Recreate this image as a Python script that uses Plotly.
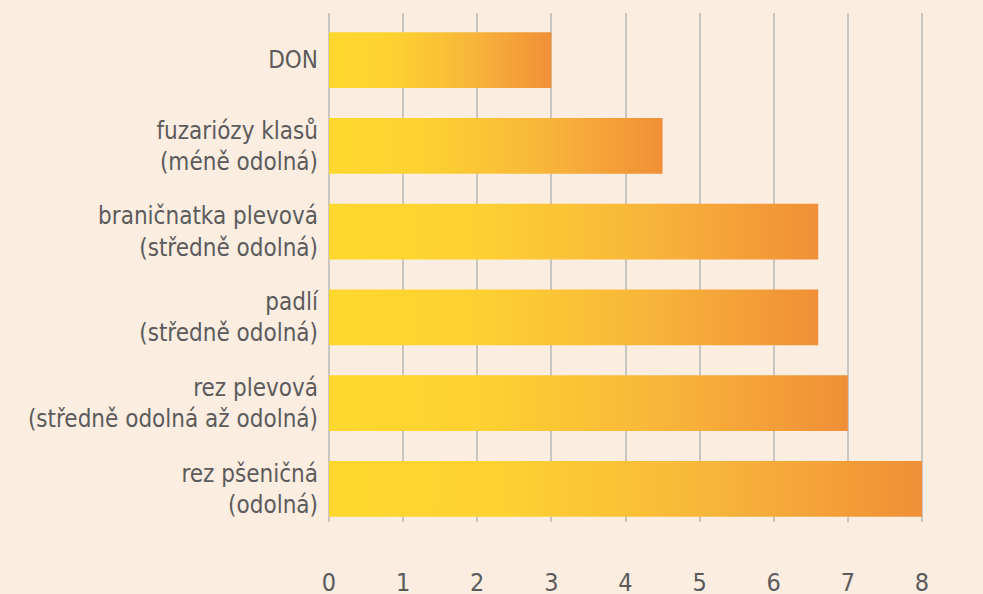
import plotly.graph_objects as go

categories = [
    "DON",
    "fuzariózy klasů<br>(méně odolná)",
    "braničnatka plevová<br>(středně odolná)",
    "padlí<br>(středně odolná)",
    "rez plevová<br>(středně odolná až odolná)",
    "rez pšeničná<br>(odolná)",
]
values = [3, 4.5, 6.6, 6.6, 7, 8]
x_ticks = [0, 1, 2, 3, 4, 5, 6, 7, 8]

FONT = "Liberation Sans Narrow, DejaVu Sans Condensed, Roboto, sans-serif"
TEXT = "#5b5b5b"
BG = "#FCEDE1"
half = 0.325
n = len(categories)
ypos = [n - 1 - i for i in range(n)]

fig = go.Figure()
for cat, v, y in zip(categories, values, ypos):
    fig.add_trace(go.Scatter(
        x=[0, v, v, 0, 0],
        y=[y - half, y - half, y + half, y + half, y - half],
        mode="lines",
        line=dict(width=0),
        fill="toself",
        fillgradient=dict(
            type="horizontal",
            colorscale=[[0, "#FFD82E"], [0.3, "#FDD131"], [0.65, "#F8B53A"], [1, "#F08F37"]],
        ),
        hoverinfo="skip",
        showlegend=False,
    ))

fig.update_layout(
    width=983, height=594,
    paper_bgcolor=BG, plot_bgcolor=BG,
    margin=dict(l=327, r=59, t=13, b=72, autoexpand=False),
    font=dict(family=FONT, color=TEXT, size=24),
    showlegend=False,
)
fig.update_xaxes(
    range=[-0.027, 8.027], tickvals=x_ticks, showgrid=True, gridcolor="#C9C5C1", gridwidth=2,
    zeroline=False, showline=False, ticks="", ticklabelstandoff=43,
    tickfont=dict(size=25, family=FONT, color=TEXT), fixedrange=True, automargin=False,
)
fig.update_yaxes(
    range=[-0.385, 5.548], tickvals=ypos, ticktext=categories, showgrid=False,
    zeroline=False, showline=False, ticks="", ticklabelstandoff=8,
    tickfont=dict(size=24, family=FONT, color=TEXT), fixedrange=True, automargin=False,
)
fig.write_html(
    "out.html",
    config={"displayModeBar": False},
    post_script="document.body.style.margin='0';document.body.style.overflow='hidden';document.body.style.background='#FCEDE1';",
)
